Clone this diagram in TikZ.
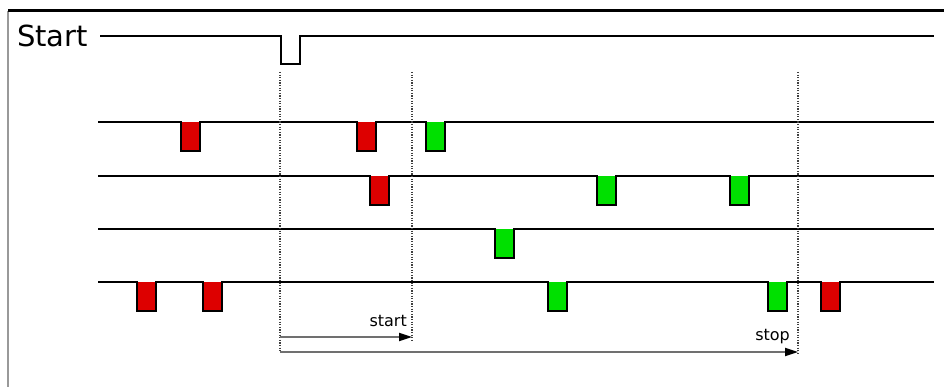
\documentclass[tikz,border=0pt]{standalone}
\usepackage{fontspec}
\setmainfont{DejaVu Sans}
\usetikzlibrary{arrows.meta}
\definecolor{pulsered}{HTML}{DD0000}
\definecolor{pulsegreen}{HTML}{00E000}
\definecolor{framegray}{HTML}{999999}
\definecolor{arrowgray}{HTML}{707070}
\tikzset{
  sig/.style={line width=2.8pt, black, line join=miter},
  marker/.style={line width=1.3pt, black!75, dash pattern=on 1.3pt off 1.3pt},
  span/.style={arrowgray, line width=1.8pt, -{Triangle[length=13pt,width=8pt,fill=black,color=black]}},
  lbl/.style={font=\fontsize{16}{19}\selectfont, inner sep=0pt},
}
\newcommand{\pw}{19}
\newcommand{\pd}{29}
\begin{document}
\begin{tikzpicture}[x=1pt, y=-1pt]
\useasboundingbox (0,0) rectangle (944,387);
\fill[white] (0,0) rectangle (944,387);
% frame
\draw[framegray, line width=1.6pt] (8,11) -- (8,387);
\draw[black, line width=3pt] (8,11) -- (944,11);

% start signal
\node[anchor=base west, inner sep=0pt, font=\fontsize{29}{34}\selectfont] (startlbl) at (17,47) {Start};
\draw[sig] (100,36) -- (281,36) -- (281,64) -- (300,64) -- (300,36) -- (934,36);

% channel 1
\foreach \x/\c in {181/pulsered, 357/pulsered, 426/pulsegreen}
  \fill[\c] (\x,122) rectangle (\x+\pw,122+\pd);
\draw[sig] (98,122) \foreach \x in {181,357,426} { -- (\x,122) -- (\x,122+\pd) -- (\x+\pw,122+\pd) -- (\x+\pw,122) } -- (934,122);

% channel 2
\foreach \x/\c in {370/pulsered, 597/pulsegreen, 730/pulsegreen}
  \fill[\c] (\x,176) rectangle (\x+\pw,176+\pd);
\draw[sig] (98,176) \foreach \x in {370,597,730} { -- (\x,176) -- (\x,176+\pd) -- (\x+\pw,176+\pd) -- (\x+\pw,176) } -- (934,176);

% channel 3
\foreach \x/\c in {495/pulsegreen}
  \fill[\c] (\x,229) rectangle (\x+\pw,229+\pd);
\draw[sig] (98,229) \foreach \x in {495} { -- (\x,229) -- (\x,229+\pd) -- (\x+\pw,229+\pd) -- (\x+\pw,229) } -- (934,229);

% channel 4
\foreach \x/\c in {137/pulsered, 203/pulsered, 548/pulsegreen, 768/pulsegreen, 821/pulsered}
  \fill[\c] (\x,282) rectangle (\x+\pw,282+\pd);
\draw[sig] (98,282) \foreach \x in {137,203,548,768,821} { -- (\x,282) -- (\x,282+\pd) -- (\x+\pw,282+\pd) -- (\x+\pw,282) } -- (934,282);

% time markers
\coordinate (t0top) at (280,72);
\coordinate (t0) at (280,352);
\coordinate (t0a) at (280,337);
\coordinate (t1top) at (412,72);
\coordinate (t1) at (412,337);
\coordinate (t2top) at (798,72);
\coordinate (t2) at (798,352);
\draw[marker] (t0top) -- (t0);
\draw[marker] (t1top) -- (412,341);
\draw[marker] (t2top) -- (798,355);

% spans
\draw[span] (t0a) -- (t1);
\draw[span] (t0) -- (t2);
\node[lbl, anchor=base east] (startspan) at (407,326) {start};
\node[lbl, anchor=base east] (stopspan) at (790,340) {stop};
\end{tikzpicture}
\end{document}
